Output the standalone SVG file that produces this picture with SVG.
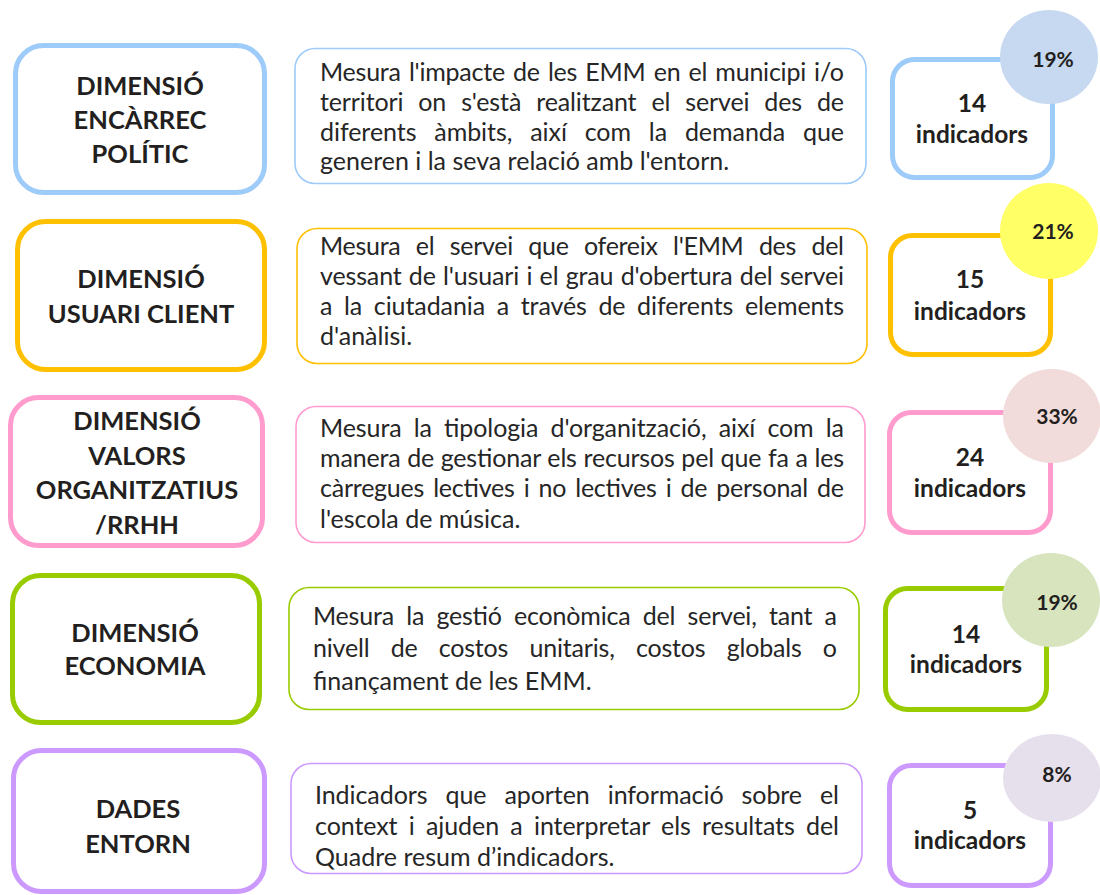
<svg xmlns="http://www.w3.org/2000/svg" width="1100" height="895" viewBox="0 0 1100 895">
<style>
  .bg { fill: #ffffff; }
  .big { fill: #ffffff; stroke-width: 5; }
  .mid { fill: #ffffff; stroke-width: 1.6; }
  .num { fill: #ffffff; stroke-width: 5; }
  .ttl { font-family: Lato, "Liberation Sans", sans-serif; font-weight: bold; font-size: 25.5px; fill: #231f20; text-anchor: middle; }
  .ind { font-family: Lato, "Liberation Sans", sans-serif; font-weight: bold; font-size: 24.5px; fill: #231f20; text-anchor: middle; }
  .pct { font-family: Lato, "Liberation Sans", sans-serif; font-weight: bold; font-size: 21px; fill: #231f20; text-anchor: middle; }
  .body { font-family: Lato, "Liberation Sans", sans-serif; font-size: 25px; fill: #262626; }
  .blue { stroke: #9dcbfa; }
  .yellow { stroke: #ffc000; }
  .pink { stroke: #ff9bcd; }
  .green { stroke: #99cc00; }
  .purple { stroke: #cc99ff; }
</style>
<rect class="bg" x="0" y="0" width="1100" height="895"/>

<g id="connectors"></g>

<!-- Row 1 -->
<g id="dim-encarrec">
  <rect class="big blue" x="15.5" y="45.5" width="249" height="147" rx="28"/>
  <text class="ttl" x="140" y="95">DIMENSIÓ</text>
  <text class="ttl" x="140" y="129">ENCÀRREC</text>
  <text class="ttl" x="140" y="163">POLÍTIC</text>
</g>
<g id="desc-encarrec">
  <rect class="mid blue" x="295" y="48.5" width="571" height="135" rx="20"/>
  <text class="body" x="320" y="81" textLength="524" lengthAdjust="spacing" word-spacing="2">Mesura l'impacte de les EMM en el municipi i/o</text>
  <text class="body" x="320" y="111" textLength="524" lengthAdjust="spacing" word-spacing="8.7">territori on s'està realitzant el servei des de</text>
  <text class="body" x="320" y="141" textLength="524" lengthAdjust="spacing" word-spacing="11.5">diferents àmbits, així com la demanda que</text>
  <text class="body" x="320" y="170">generen i la seva relació amb l'entorn.</text>
</g>
<g id="num-encarrec">
  <rect class="num blue" x="892.5" y="59.5" width="160" height="118" rx="22"/>
  <text class="ind" x="972" y="112">14</text>
  <text class="ind" x="972" y="143">indicadors</text>
  <ellipse cx="1049" cy="57" rx="49" ry="47" fill="#c6d9f1"/>
  <text class="pct" x="1053" y="67">19%</text>
</g>

<!-- Row 2 -->
<g id="dim-usuari">
  <rect class="big yellow" x="17.5" y="221.5" width="247" height="148" rx="28"/>
  <text class="ttl" x="141" y="288">DIMENSIÓ</text>
  <text class="ttl" x="141" y="323">USUARI CLIENT</text>
</g>
<g id="desc-usuari">
  <rect class="mid yellow" x="297" y="228.5" width="570" height="135" rx="20"/>
  <text class="body" x="320" y="255" textLength="524" lengthAdjust="spacing" word-spacing="9.3">Mesura el servei que ofereix l'EMM des del</text>
  <text class="body" x="320" y="285" textLength="524" lengthAdjust="spacing" word-spacing="1">vessant de l'usuari i el grau d'obertura del servei</text>
  <text class="body" x="320" y="315" textLength="524" lengthAdjust="spacing" word-spacing="5.3">a la ciutadania a través de diferents elements</text>
  <text class="body" x="320" y="345">d'anàlisi.</text>
</g>
<g id="num-usuari">
  <rect class="num yellow" x="890.5" y="235.5" width="160" height="119" rx="22"/>
  <text class="ind" x="970" y="288">15</text>
  <text class="ind" x="970" y="320">indicadors</text>
  <ellipse cx="1049" cy="231" rx="49" ry="48" fill="#ffff66"/>
  <text class="pct" x="1053" y="239">21%</text>
</g>

<!-- Row 3 -->
<g id="dim-valors">
  <rect class="big pink" x="10.5" y="397.5" width="252" height="148" rx="28"/>
  <text class="ttl" x="137" y="430">DIMENSIÓ</text>
  <text class="ttl" x="137" y="465">VALORS</text>
  <text class="ttl" x="137" y="499">ORGANITZATIUS</text>
  <text class="ttl" x="137" y="534">/RRHH</text>
</g>
<g id="desc-valors">
  <rect class="mid pink" x="296" y="406.5" width="569" height="136" rx="20"/>
  <text class="body" x="320" y="437" textLength="524" lengthAdjust="spacing" word-spacing="5.9">Mesura la tipologia d'organització, així com la</text>
  <text class="body" x="320" y="467" textLength="524" lengthAdjust="spacing" word-spacing="0.5">manera de gestionar els recursos pel que fa a les</text>
  <text class="body" x="320" y="497" textLength="524" lengthAdjust="spacing" word-spacing="2.9">càrregues lectives i no lectives i de personal de</text>
  <text class="body" x="320" y="528">l'escola de música.</text>
</g>
<g id="num-valors">
  <rect class="num pink" x="889.5" y="412.5" width="161" height="120" rx="22"/>
  <text class="ind" x="970" y="466">24</text>
  <text class="ind" x="970" y="497">indicadors</text>
  <ellipse cx="1052" cy="416" rx="49" ry="47" fill="#f2dcdb"/>
  <text class="pct" x="1057" y="424">33%</text>
</g>

<!-- Row 4 -->
<g id="dim-economia">
  <rect class="big green" x="12.5" y="575.5" width="247" height="147" rx="28"/>
  <text class="ttl" x="135" y="642">DIMENSIÓ</text>
  <text class="ttl" x="135" y="675">ECONOMIA</text>
</g>
<g id="desc-economia">
  <rect class="mid green" x="289" y="587.5" width="570" height="122" rx="20"/>
  <text class="body" x="313" y="625" textLength="524" lengthAdjust="spacing" word-spacing="6.1">Mesura la gestió econòmica del servei, tant a</text>
  <text class="body" x="313" y="657" textLength="524" lengthAdjust="spacing" word-spacing="15">nivell de costos unitaris, costos globals o</text>
  <text class="body" x="313" y="690">finançament de les EMM.</text>
</g>
<g id="num-economia">
  <rect class="num green" x="885.5" y="588.5" width="161" height="121" rx="22"/>
  <text class="ind" x="966" y="643">14</text>
  <text class="ind" x="966" y="673">indicadors</text>
  <ellipse cx="1051" cy="600" rx="49" ry="47" fill="#d7e4bd"/>
  <text class="pct" x="1057" y="610">19%</text>
</g>

<!-- Row 5 -->
<g id="dades-entorn">
  <rect class="big purple" x="13.5" y="750.5" width="251" height="141" rx="28"/>
  <text class="ttl" x="138" y="818">DADES</text>
  <text class="ttl" x="138" y="853">ENTORN</text>
</g>
<g id="desc-entorn">
  <rect class="mid purple" x="291" y="763.5" width="571" height="110" rx="20"/>
  <text class="body" x="315" y="804" textLength="524" lengthAdjust="spacing" word-spacing="11.7">Indicadors que aporten informació sobre el</text>
  <text class="body" x="315" y="835" textLength="524" lengthAdjust="spacing" word-spacing="5">context i ajuden a interpretar els resultats del</text>
  <text class="body" x="315" y="866">Quadre resum d’indicadors.</text>
</g>
<g id="num-entorn">
  <rect class="num purple" x="889.5" y="765.5" width="161" height="120" rx="22"/>
  <text class="ind" x="970" y="819">5</text>
  <text class="ind" x="970" y="849">indicadors</text>
  <ellipse cx="1052" cy="778" rx="49" ry="44" fill="#e6e0ec"/>
  <text class="pct" x="1057" y="782">8%</text>
</g>
</svg>
